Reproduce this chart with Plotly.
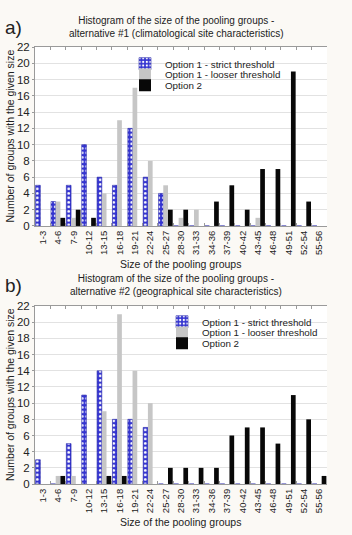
import plotly.graph_objects as go

# ---------------- data ----------------
categories = ["1-3", "4-6", "7-9", "10-12", "13-15", "16-18", "19-21", "22-24", "25-27",
              "28-30", "31-33", "34-36", "37-39", "40-42", "43-45", "46-48", "49-51",
              "52-54", "55-56"]

strict_a = [5, 3, 5, 10, 6, 5, 12, 6, 4, 0, 0, 0, 0, 0, 0, 0, 0, 0, 0]
looser_a = [0, 3, 1, 0, 4, 13, 17, 8, 5, 1, 2, 0, 0, 0, 1, 0, 0, 0, 0]
option2_a = [0, 1, 2, 1, 0, 0, 0, 0, 2, 2, 0, 3, 5, 2, 7, 7, 19, 3, 0]

strict_b = [3, 0, 5, 11, 14, 8, 8, 7, 0, 0, 0, 0, 0, 0, 0, 0, 0, 0, 0]
looser_b = [0, 1, 1, 0, 9, 21, 14, 10, 0, 0, 0, 0, 0, 0, 0, 0, 0, 0, 0]
option2_b = [0, 1, 0, 0, 1, 1, 0, 0, 2, 2, 2, 2, 6, 7, 7, 5, 11, 8, 1]

count_ticks = [0, 2, 4, 6, 8, 10, 12, 14, 16, 18, 20, 22]
pct_labels = ["0%", "4%", "7%", "11%", "14%", "18%", "21%", "25%", "29%", "32%", "36%", "39%"]

series_names = ["Option 1 - strict threshold", "Option 1 - looser threshold", "Option 2"]

# ---------------- style ----------------
W, H = 352, 535
FONT = "Liberation Sans, Arial, sans-serif"
TXT = "#222222"
BLUE = "#3434d0"
GRAY = "#c6c6c6"
BLACK = "#080808"
AXLINE = "#9a9a9a"
GRID = "#e2e2e2"


def px_x(x):
    return x / W


def px_y(y):
    return 1 - y / H


fig = go.Figure()

panels = [
    dict(data=(strict_a, looser_a, option2_a), x="x", y="y",
         legends=("legend", "legend2", "legend3")),
    dict(data=(strict_b, looser_b, option2_b), x="x2", y="y2",
         legends=("legend4", "legend5", "legend6")),
]

for p in panels:
    s, l, o = p["data"]
    fig.add_trace(go.Bar(
        x=categories, y=s, name=series_names[0], xaxis=p["x"], yaxis=p["y"],
        legend=p["legends"][0], showlegend=True,
        marker=dict(color=BLUE, line=dict(color="#2424a8", width=0.6),
                    pattern=dict(shape=".", fgcolor="white", bgcolor=BLUE,
                                 size=4.5, solidity=0.3, fillmode="replace"))))
    fig.add_trace(go.Bar(
        x=categories, y=l, name=series_names[1], xaxis=p["x"], yaxis=p["y"],
        legend=p["legends"][1], showlegend=True,
        marker=dict(color=GRAY, line=dict(width=0))))
    fig.add_trace(go.Bar(
        x=categories, y=o, name=series_names[2], xaxis=p["x"], yaxis=p["y"],
        legend=p["legends"][2], showlegend=True,
        marker=dict(color=BLACK, line=dict(width=0))))

xdom = [px_x(35), px_x(327)]
dom_a = [px_y(225), px_y(42)]
dom_b = [px_y(489), px_y(307)]

xcommon = dict(type="category", categoryorder="array", categoryarray=categories,
               tickangle=-90, tickfont=dict(size=9.5, family=FONT, color=TXT),
               showline=True, linecolor=AXLINE, linewidth=1, mirror="ticks",
               ticks="inside", ticklen=3, tickcolor=AXLINE, tickson="boundaries",
               showgrid=False, domain=xdom)
ycommon = dict(range=[0, 22], tickvals=count_ticks, showgrid=True, gridcolor=GRID,
               gridwidth=1, zeroline=False, showline=True, linecolor=AXLINE,
               ticks="outside", ticklen=2, tickcolor=AXLINE,
               tickfont=dict(size=11.5, family=FONT, color=TXT))
yright = dict(range=[0, 22], tickvals=count_ticks, ticktext=pct_labels, side="right",
              showgrid=False, zeroline=False, showline=True, linecolor=AXLINE,
              ticks="outside", ticklen=3, tickcolor=AXLINE,
              tickfont=dict(size=11.5, family=FONT, color=TXT))

fig.update_layout(
    width=W, height=H,
    margin=dict(l=0, r=0, t=0, b=0),
    paper_bgcolor="#fbf9f5",
    plot_bgcolor="white",
    showlegend=True,
    barmode="group", bargap=0.08, bargroupgap=0,
    font=dict(family=FONT, color=TXT),
    xaxis=dict(anchor="y", **xcommon),
    yaxis=dict(anchor="x", domain=dom_a, **ycommon),
    yaxis3=dict(anchor="x", overlaying="y", **yright),
    xaxis2=dict(anchor="y2", **xcommon),
    yaxis2=dict(anchor="x2", domain=dom_b, **ycommon),
    yaxis4=dict(anchor="x2", overlaying="y2", **yright),
)

leg_font = dict(size=9.8, family=FONT, color=TXT)
leg_a_x, leg_b_x = 125, 162
leg_a_y = [59, 70, 81]
leg_b_y = [323, 334, 345]
for i, name in enumerate(["legend", "legend2", "legend3"]):
    fig.update_layout({name: dict(x=px_x(leg_a_x), y=px_y(leg_a_y[i]), xanchor="left",
                                  yanchor="middle", bgcolor="rgba(0,0,0,0)",
                                  font=leg_font, borderwidth=0, visible=True)})
for i, name in enumerate(["legend4", "legend5", "legend6"]):
    fig.update_layout({name: dict(x=px_x(leg_b_x), y=px_y(leg_b_y[i]), xanchor="left",
                                  yanchor="middle", bgcolor="rgba(0,0,0,0)",
                                  font=leg_font, borderwidth=0, visible=True)})

ann = []
titles = [
    ("Histogram of the size of the pooling groups -<br>alternative #1 (climatological site characteristics)", 21.5, "a)", 22),
    ("Histogram of the size of the pooling groups -<br>alternative #2 (geographical site characteristics)", 285.5, "b)", 286),
]
for text, yc, lab, ly in titles:
    ann.append(dict(text=text, x=px_x(176), y=px_y(yc), xref="paper", yref="paper",
                    showarrow=False, xanchor="center", yanchor="middle",
                    font=dict(size=10, family=FONT, color=TXT)))
    ann.append(dict(text=lab, x=px_x(3), y=px_y(ly), xref="paper", yref="paper",
                    showarrow=False, xanchor="left", yanchor="middle",
                    font=dict(size=19, family=FONT, color=TXT)))

for yc, xt in [(133.5, 264), (398, 528)]:
    ann.append(dict(text="Number of groups with the given size", x=px_x(10), y=px_y(yc),
                    xref="paper", yref="paper", showarrow=False, textangle=-90,
                    xanchor="center", yanchor="middle",
                    font=dict(size=10.5, family=FONT, color=TXT)))
    ann.append(dict(text="Size of the pooling groups", x=px_x(180), y=px_y(xt),
                    xref="paper", yref="paper", showarrow=False,
                    xanchor="center", yanchor="middle",
                    font=dict(size=10.5, family=FONT, color=TXT)))

fig.update_layout(annotations=ann)
fig.write_html("out.html")
